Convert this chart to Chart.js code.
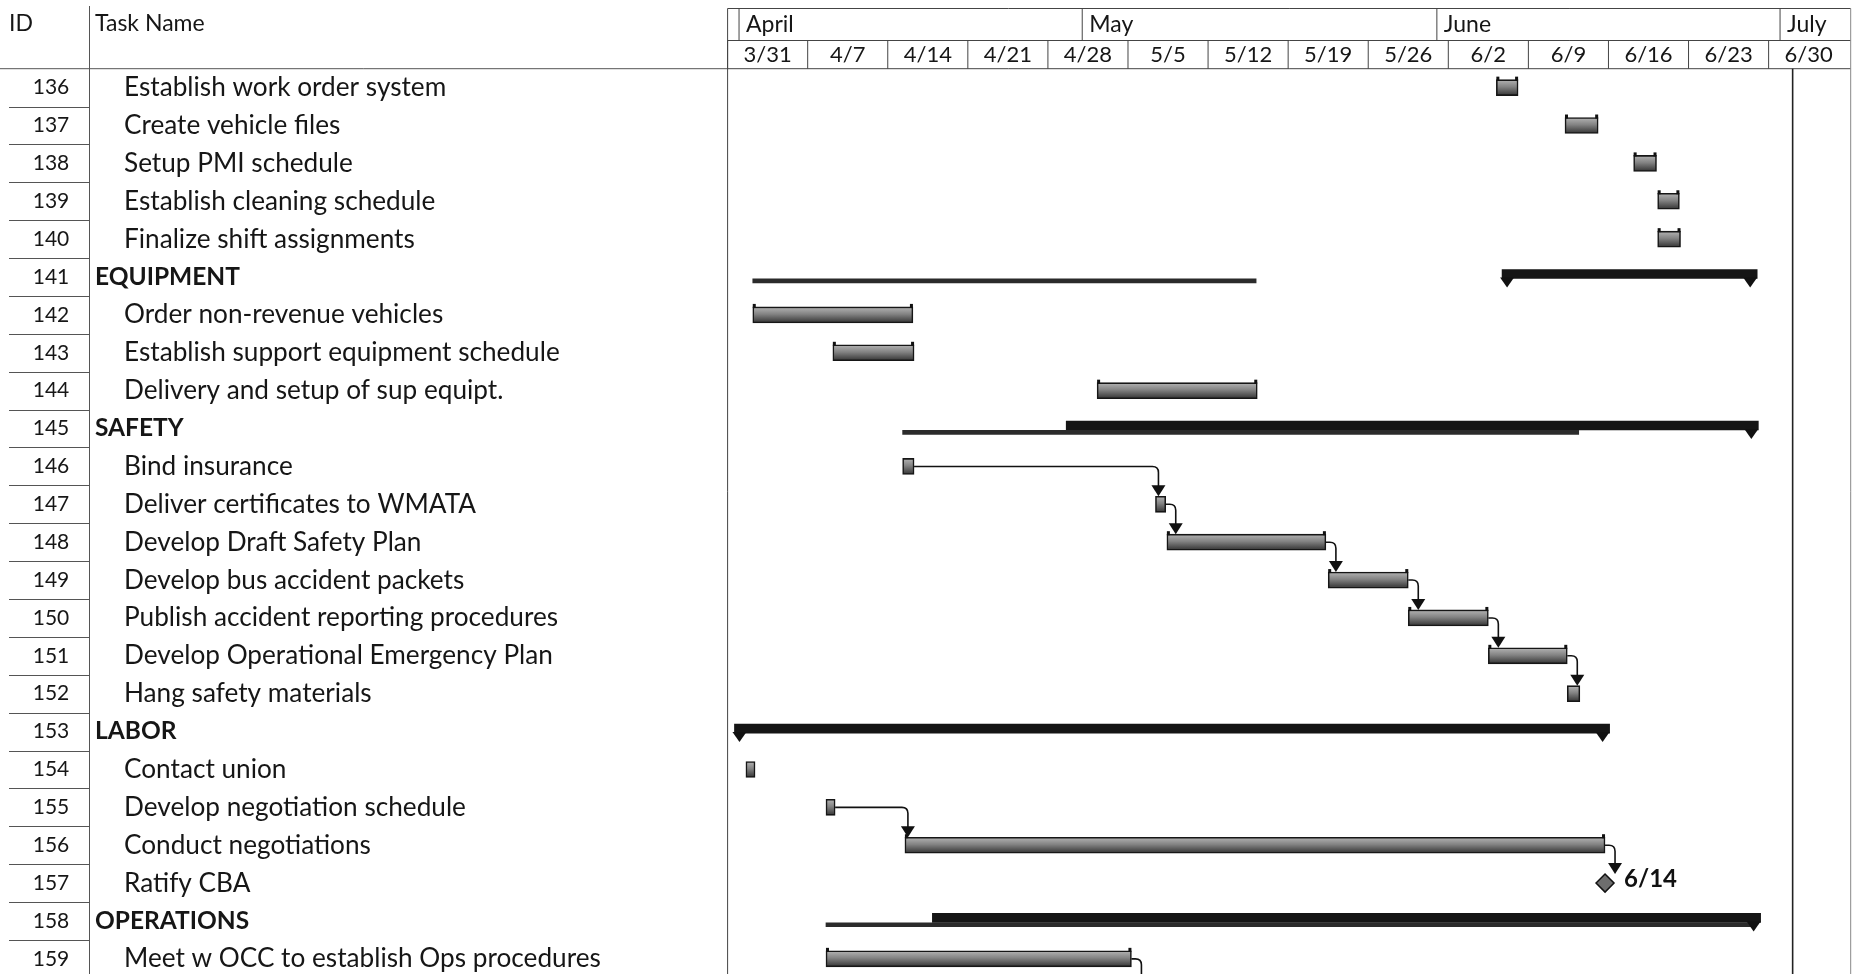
<!DOCTYPE html>
<html>
<head>
<meta charset="utf-8">
<script src="https://cdn.jsdelivr.net/npm/chart.js@4.4.1/dist/chart.umd.min.js"></script>
<style>
  html, body { margin: 0; padding: 0; background: #fff; overflow: hidden; }
</style>
</head>
<body>
<canvas id="gantt" width="1858" height="974"></canvas>
<script>
// task table rows
const rowIds = [136, 137, 138, 139, 140, 141, 142, 143, 144, 145, 146, 147,
                148, 149, 150, 151, 152, 153, 154, 155, 156, 157, 158, 159];
const rowNames = [
  'Establish work order system', 'Create vehicle files', 'Setup PMI schedule',
  'Establish cleaning schedule', 'Finalize shift assignments', 'EQUIPMENT',
  'Order non-revenue vehicles', 'Establish support equipment schedule',
  'Delivery and setup of sup equipt.', 'SAFETY', 'Bind insurance',
  'Deliver certificates to WMATA', 'Develop Draft Safety Plan',
  'Develop bus accident packets', 'Publish accident reporting procedures',
  'Develop Operational Emergency Plan', 'Hang safety materials', 'LABOR',
  'Contact union', 'Develop negotiation schedule', 'Conduct negotiations',
  'Ratify CBA', 'OPERATIONS', 'Meet w OCC to establish Ops procedures'
];
const groupIds = [141, 145, 153, 158];

// timescale, in days counted from 3/31
const weekLabels = ['3/31', '4/7', '4/14', '4/21', '4/28', '5/5', '5/12',
                    '5/19', '5/26', '6/2', '6/9', '6/16', '6/23', '6/30'];
const monthLabels = ['April', 'May', 'June', 'July'];
const monthStarts = [1, 31, 62, 92];
const statusDay = 93.1;

// ordinary tasks
const taskIds   = [136, 137, 138, 139, 140, 142, 143, 144, 146, 147, 148, 149, 150, 151, 152, 154, 155, 156, 159];
const taskStart = [67.2, 73.2, 79.2, 81.3, 81.3, 2.2, 9.2, 32.3, 15.3, 37.4, 38.4, 52.5, 59.5, 66.5, 73.4, 1.6, 8.6, 15.5, 8.6];
const taskEnd   = [69.1, 76.1, 81.2, 83.2, 83.3, 16.2, 16.3, 46.3, 16.3, 38.3, 52.3, 59.5, 66.5, 73.4, 74.5, 2.4, 9.4, 76.7, 35.3];

// summary bars and the thin rolled-up lines under them
const summaryIds   = [141, 145, 153, 158];
const summaryStart = [67.7, 29.6, 0.6, 17.9];
const summaryEnd   = [90.0, 90.1, 77.1, 90.3];
const summaryCaps  = ['both', 'end', 'both', 'end'];
const rollupIds   = [141, 145, 158];
const rollupStart = [2.2, 15.3, 8.6];
const rollupEnd   = [46.2, 74.4, 89.7];

// milestone
const milestoneIds  = [157];
const milestoneDay  = [76.7];
const milestoneText = ['6/14'];

// dependencies [predecessor, successor]; null = successor below the page
const links = [[146, 147], [147, 148], [148, 149], [149, 150], [150, 151],
               [151, 152], [155, 156], [156, 157], [159, null]];

const rowOf = id => rowIds.indexOf(id);
const FONT = 'Lato, "Open Sans", sans-serif';
const INK = '#161616';

function hline(c, x1, x2, y) { c.beginPath(); c.moveTo(x1, y); c.lineTo(x2, y); c.stroke(); }
function vline(c, x, y1, y2) { c.beginPath(); c.moveTo(x, y1); c.lineTo(x, y2); c.stroke(); }

function drawTable(chart) {
  const c = chart.ctx, ys = chart.scales.y, area = chart.chartArea;
  c.save();
  c.fillStyle = INK;
  c.textBaseline = 'middle';
  c.font = '23px ' + FONT;
  c.fillText('ID', 9, 24);
  c.fillText('Task Name', 95, 24);

  c.strokeStyle = '#555';
  c.lineWidth = 1;
  hline(c, 0, area.left, area.top);
  vline(c, 89.5, 6, chart.height);

  rowIds.forEach((id, i) => {
    const yc = ys.getPixelForValue(i);
    c.textAlign = 'center';
    c.font = '21px ' + FONT;
    c.fillText(String(id), 51, yc);
    c.textAlign = 'left';
    if (groupIds.includes(id)) {
      c.font = 'bold 24.5px ' + FONT;
      c.fillText(rowNames[i], 95, yc);
    } else {
      c.font = '26.2px ' + FONT;
      c.fillText(rowNames[i], 124, yc);
    }
    const yb = Math.round(ys.getPixelForValue(i + 0.5)) + 0.5;
    hline(c, 9, 89.5, yb);
  });
  c.restore();
}

function drawHeader(chart) {
  const c = chart.ctx, xs = chart.scales.x, area = chart.chartArea;
  const top = 8.5, mid = 40.5, bot = area.top;
  const px = d => xs.getPixelForValue(d);
  c.save();
  c.strokeStyle = '#444';
  c.lineWidth = 1;
  hline(c, area.left, area.right + 2, top);
  hline(c, area.left, area.right + 2, mid);
  hline(c, area.left, area.right + 2, bot);
  vline(c, area.left, top, chart.height);
  c.strokeStyle = '#888';
  vline(c, area.right + 2, top, chart.height);
  c.strokeStyle = '#444';

  // month row
  c.fillStyle = INK;
  c.textBaseline = 'middle';
  c.font = '23px ' + FONT;
  monthStarts.forEach((d, i) => {
    vline(c, px(d), top, mid);
    c.textAlign = 'left';
    c.fillText(monthLabels[i], px(d) + 7, 25);
  });

  // week row
  c.font = '22px ' + FONT;
  c.textAlign = 'center';
  weekLabels.forEach((lab, i) => {
    vline(c, px(i * 7), mid, bot);
    c.fillText(lab, px(i * 7 + 3.5), 55);
  });

  // status line
  c.strokeStyle = '#222';
  c.lineWidth = 1.6;
  vline(c, px(statusDay), bot, chart.height);
  c.restore();
}

function drawBarEnds(chart) {
  const c = chart.ctx;
  c.save();
  c.fillStyle = '#111';
  chart.getDatasetMeta(2).data.forEach(bar => {
    const p = bar.getProps(['x', 'base', 'y', 'height'], true);
    const t = p.y - p.height / 2;
    if (p.x - p.base > 14) {
      c.fillRect(p.base, t - 3, 3, 4);
      c.fillRect(p.x - 3, t - 3, 3, 4);
    }
  });

  // triangles under summary bars
  chart.getDatasetMeta(1).data.forEach((bar, i) => {
    const p = bar.getProps(['x', 'base', 'y', 'height'], true);
    const b = p.y + p.height / 2;
    const tri = cx => {
      c.beginPath();
      c.moveTo(cx - 7, b - 1);
      c.lineTo(cx + 7, b - 1);
      c.lineTo(cx, b + 9);
      c.closePath();
      c.fill();
    };
    if (summaryCaps[i] === 'both') tri(p.base + 5);
    tri(p.x - 7);
  });
  c.restore();
}

function drawLinks(chart) {
  const c = chart.ctx, xs = chart.scales.x, ys = chart.scales.y;
  c.save();
  c.strokeStyle = '#111';
  c.fillStyle = '#111';
  c.lineWidth = 1.6;
  links.forEach(([a, b]) => {
    const ia = taskIds.indexOf(a);
    const x0 = xs.getPixelForValue(taskEnd[ia]);
    const y0 = ys.getPixelForValue(rowOf(a));
    let sx, top, arrow = true;
    if (b === null) {
      sx = x0; top = chart.height + 20; arrow = false;
    } else if (taskIds.indexOf(b) >= 0) {
      const ib = taskIds.indexOf(b);
      sx = xs.getPixelForValue(taskStart[ib]);
      top = ys.getPixelForValue(rowOf(b)) - 8;
    } else {
      const im = milestoneIds.indexOf(b);
      sx = xs.getPixelForValue(milestoneDay[im]);
      top = ys.getPixelForValue(rowOf(b)) - 9;
    }
    const ax = Math.max(sx + 3, x0 + 10);
    const r = 6;
    c.beginPath();
    c.moveTo(x0, y0);
    c.lineTo(ax - r, y0);
    c.quadraticCurveTo(ax, y0, ax, y0 + r);
    c.lineTo(ax, top - 8);
    c.stroke();
    if (arrow) {
      c.beginPath();
      c.moveTo(ax - 7, top - 11);
      c.lineTo(ax + 7, top - 11);
      c.lineTo(ax, top);
      c.closePath();
      c.fill();
    }
  });

  // milestone date label
  c.font = 'bold 24px ' + FONT;
  c.textBaseline = 'middle';
  c.textAlign = 'left';
  milestoneIds.forEach((id, i) => {
    c.fillText(milestoneText[i], xs.getPixelForValue(milestoneDay[i]) + 19, ys.getPixelForValue(rowOf(id)) - 4);
  });
  c.restore();
}

const ganttDecor = {
  id: 'ganttDecor',
  beforeDatasetsDraw(chart) { drawTable(chart); drawHeader(chart); },
  afterDatasetsDraw(chart) { drawBarEnds(chart); drawLinks(chart); }
};

function taskFill(ctx) {
  const chart = ctx.chart;
  if (!chart.chartArea || !ctx.raw) return '#7a7a7a';
  const yc = chart.scales.y.getPixelForValue(ctx.raw.y);
  const g = chart.ctx.createLinearGradient(0, yc - 8, 0, yc + 8);
  g.addColorStop(0, '#b4b4b4');
  g.addColorStop(0.45, '#838383');
  g.addColorStop(1, '#333333');
  return g;
}

const rollupData = rollupIds.map((id, i) => ({ x: [rollupStart[i], rollupEnd[i]], y: rowOf(id) }));
const summaryData = summaryIds.map((id, i) => ({ x: [summaryStart[i], summaryEnd[i]], y: rowOf(id) }));
const taskData = taskIds.map((id, i) => ({ x: [taskStart[i], taskEnd[i]], y: rowOf(id) }));
const milestoneData = milestoneIds.map((id, i) => ({ x: milestoneDay[i], y: rowOf(id) }));

new Chart(document.getElementById('gantt'), {
  type: 'bar',
  data: {
    datasets: [
      {
        label: 'Rolled up', data: rollupData, indexAxis: 'y', yAxisID: 'yRoll', grouped: false,
        backgroundColor: '#2b2b2b', barThickness: 4, maxBarThickness: 4, borderWidth: 0
      },
      {
        label: 'Summary', data: summaryData, indexAxis: 'y', yAxisID: 'ySum', grouped: false,
        backgroundColor: '#151515', barThickness: 9, maxBarThickness: 9, borderWidth: 0
      },
      {
        label: 'Tasks', data: taskData, indexAxis: 'y', yAxisID: 'y', grouped: false,
        backgroundColor: taskFill, borderColor: '#161616', borderWidth: 1.6, borderSkipped: false,
        barThickness: 16, maxBarThickness: 16
      },
      {
        type: 'line', label: 'Milestone', data: milestoneData, xAxisID: 'x', yAxisID: 'y',
        showLine: false, pointStyle: 'rectRot', pointRadius: 9,
        backgroundColor: '#6e6e6e', borderColor: '#111', borderWidth: 1.5
      }
    ]
  },
  options: {
    responsive: false,
    animation: false,
    devicePixelRatio: 1,
    layout: { autoPadding: false, padding: { left: 727.6, right: 9.3, top: 68.7, bottom: 0 } },
    plugins: { legend: { display: false }, tooltip: { enabled: false } },
    scales: {
      x: { type: 'linear', axis: 'x', offset: false, min: 0, max: 98, display: false },
      y: { type: 'linear', axis: 'y', offset: false, reverse: true, min: -0.5, max: 23.4, display: false },
      ySum: { type: 'linear', axis: 'y', offset: false, reverse: true, min: -0.42, max: 23.48, display: false },
      yRoll: { type: 'linear', axis: 'y', offset: false, reverse: true, min: -0.6, max: 23.3, display: false }
    }
  },
  plugins: [ganttDecor]
});
</script>
</body>
</html>
